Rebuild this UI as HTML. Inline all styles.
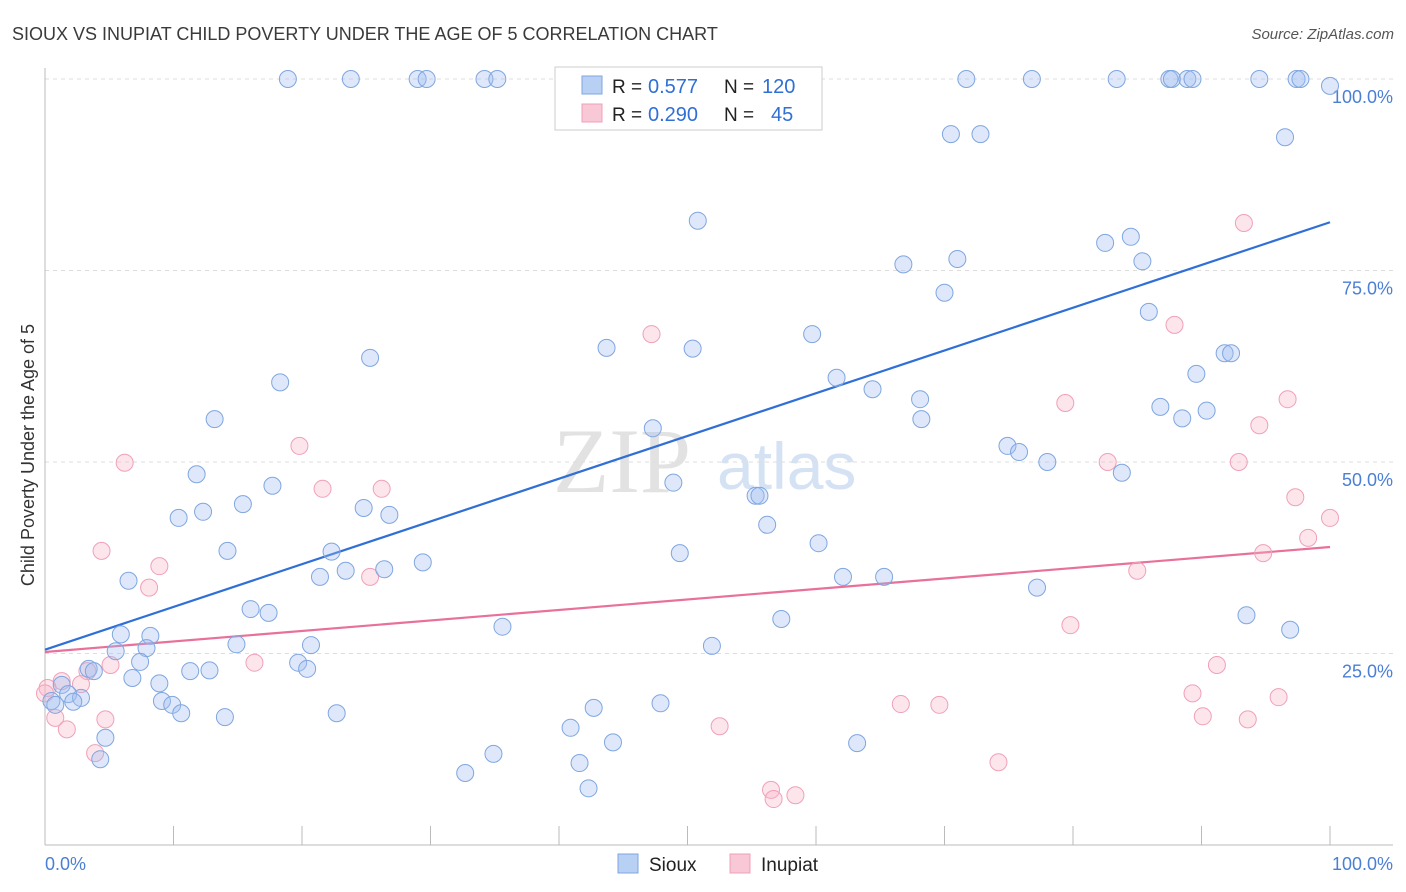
<!DOCTYPE html>
<html><head><meta charset="utf-8"><style>
body{margin:0;background:#fff;font-family:"Liberation Sans",sans-serif;}
svg{display:block}
</style></head><body>
<svg id="chart" width="1406" height="892">
<text x="12" y="40" font-size="18" fill="#3a3a3a">SIOUX VS INUPIAT CHILD POVERTY UNDER THE AGE OF 5 CORRELATION CHART</text>
<text x="1394" y="39" font-size="15" fill="#555" font-style="italic" text-anchor="end">Source: ZipAtlas.com</text>
<g><text x="553" y="492" font-size="92" font-family="Liberation Serif,serif" fill="#e2e2e2">ZIP</text><text x="717" y="489" font-size="66" fill="#d4e2f4">atlas</text></g>
<g id="grid"></g>
<g id="axes"></g>
<g id="lines"></g>
<g id="pts"></g>
<g>
<rect x="555" y="67" width="267" height="63" fill="#fff" stroke="#ccc"/>
<rect x="582" y="76" width="20" height="18" fill="#b8d0f4" stroke="#7fa6e0"/>
<text x="612" y="93" font-size="19" fill="#222">R =</text>
<text x="648" y="93" font-size="20" fill="#2f6fd6">0.577</text>
<text x="724" y="93" font-size="19" fill="#222">N =</text>
<text x="762" y="93" font-size="20" fill="#2f6fd6">120</text>
<rect x="582" y="104" width="20" height="18" fill="#f9c8d6" stroke="#f0a0b8"/>
<text x="612" y="121" font-size="19" fill="#222">R =</text>
<text x="648" y="121" font-size="20" fill="#2f6fd6">0.290</text>
<text x="724" y="121" font-size="19" fill="#222">N =</text>
<text x="771" y="121" font-size="20" fill="#2f6fd6">45</text>
</g>
<g>
<rect x="618" y="854" width="20" height="19" fill="#b8d0f4" stroke="#7fa6e0"/>
<text x="649" y="871" font-size="19" fill="#222">Sioux</text>
<rect x="730" y="854" width="20" height="19" fill="#f9c8d6" stroke="#f0a0b8"/>
<text x="761" y="871" font-size="19" fill="#222">Inupiat</text>
</g>
<text x="34" y="455" font-size="18" fill="#333" text-anchor="middle" transform="rotate(-90 34 455)">Child Poverty Under the Age of 5</text>
</svg>
<script>
const siouxX=[18.9,23.8,29.0,29.7,34.2,35.2,43.4,54.2,71.7,76.8,83.4,87.5,87.7,88.9,89.3,94.5,97.4,97.7,100,70.5,72.8,96.5,50.8,82.5,84.5,85.4,66.8,71.0,70.0,85.9,25.3,43.7,50.4,59.7,91.8,92.3,18.3,61.6,64.4,89.6,68.1,68.2,86.8,88.5,90.4,13.2,47.3,74.9,75.8,78.0,83.8,11.8,17.7,48.9,55.3,55.6,15.4,12.3,10.4,24.8,26.8,56.2,60.2,14.2,22.3,49.4,29.4,23.4,26.4,6.5,21.4,62.1,65.3,77.2,16.0,17.4,35.6,57.3,93.5,96.9,5.9,8.2,14.9,20.7,7.9,5.5,51.9,7.4,3.4,3.8,19.7,20.4,11.3,12.8,6.8,8.9,1.3,1.8,0.5,2.8,2.2,9.1,9.9,10.6,14.0,22.7,47.9,42.7,40.9,4.7,4.3,34.9,41.6,32.7,44.2,63.2,42.3,0.8];
const siouxY=[100,100,100,100,100,100,100,100,100,100,100,100,100,100,100,100,100,100,99.1,92.8,92.8,92.4,81.5,78.6,79.4,76.2,75.8,76.5,72.1,69.6,63.6,64.9,64.8,66.7,64.2,64.2,60.4,61.0,59.5,61.5,58.2,55.6,57.2,55.7,56.7,55.6,54.4,52.1,51.3,50.0,48.6,48.4,46.9,47.3,45.6,45.6,44.5,43.5,42.7,44.0,43.1,41.8,39.4,38.4,38.3,38.1,36.9,35.8,36.0,34.5,35.0,35.0,35.0,33.6,30.8,30.3,28.5,29.5,30.0,28.1,27.5,27.3,26.2,26.1,25.7,25.3,26.0,23.9,23.0,22.7,23.8,23.0,22.7,22.8,21.8,21.1,20.9,19.7,18.8,19.2,18.7,18.8,18.3,17.2,16.7,17.2,18.5,17.9,15.3,14.0,11.2,11.9,10.7,9.4,13.4,13.3,7.4,18.3];
const inupiatX=[93.3,87.9,47.2,79.4,96.7,94.5,19.8,6.2,82.7,92.9,21.6,26.2,97.3,100,98.3,4.4,8.9,8.1,94.8,85.0,25.3,79.8,16.3,91.2,5.1,3.3,2.8,1.3,0.2,0,89.3,96.0,66.6,69.6,0.8,4.7,1.7,52.5,90.1,93.6,3.9,74.2,56.5,56.7,58.4];
const inupiatY=[81.2,67.9,66.7,57.7,58.2,54.8,52.1,49.9,50.0,50.0,46.5,46.5,45.4,42.7,40.1,38.4,36.4,33.6,38.1,35.8,35.0,28.7,23.8,23.5,23.5,22.7,21.0,21.4,20.5,19.8,19.8,19.3,18.4,18.3,16.6,16.4,15.1,15.5,16.8,16.4,12.0,10.8,7.2,6.0,6.5];
const siouxTrend=[25.5,81.3];
const inupiatTrend=[25.2,38.9];
const yTicks=[25,50,75,100];
const yTickLabels=["25.0%","50.0%","75.0%","100.0%"];
const xTicks=[0,10,20,30,40,50,60,70,80,90,100];
const NS="http://www.w3.org/2000/svg";
const sx=v=>45+v*12.85, sy=v=>845-v*7.66;
function mk(t,a,p){const e=document.createElementNS(NS,t);for(const k in a)e.setAttribute(k,a[k]);document.getElementById(p).appendChild(e);return e;}
yTicks.forEach((v,i)=>{
 const g=mk('line',{x1:45,x2:1393,y1:sy(v),y2:sy(v),stroke:'#ddd','stroke-dasharray':'4,4'},'grid');
 
 
 const t=mk('text',{x:1393,y:sy(v)+24,'font-size':18,fill:'#4a7fd4','text-anchor':'end'},'axes');
 t.textContent=yTickLabels[i];
 
 
});
const ax=mk('line',{x1:45,x2:45,y1:68,y2:845,stroke:'#bbb'},'axes');


const bx=mk('line',{x1:45,x2:1393,y1:845,y2:845,stroke:'#bbb'},'axes');


xTicks.forEach(v=>{const l=mk('line',{x1:sx(v),x2:sx(v),y1:826,y2:845,stroke:'#bbb'},'axes');
 
 });
const xl0=mk('text',{x:45,y:870,'font-size':18,fill:'#4a7fd4'},'axes');xl0.textContent='0.0%';


const xl1=mk('text',{x:1393,y:870,'font-size':18,fill:'#4a7fd4','text-anchor':'end'},'axes');xl1.textContent='100.0%';


function pts(X,Y,fill,stroke,name){X.forEach((x,i)=>{const c=mk('circle',{cx:sx(x),cy:sy(Y[i]),r:8.5,fill:fill,stroke:stroke,'stroke-width':1},'pts');
 
 });}
pts(inupiatX,inupiatY,'rgba(248,180,200,0.35)','#f0a0b8','inupiat');
pts(siouxX,siouxY,'rgba(160,190,240,0.35)','#7fa6e0','sioux');
const l1=mk('line',{x1:sx(0),y1:sy(siouxTrend[0]),x2:sx(100),y2:sy(siouxTrend[1]),stroke:'#2f6fd6','stroke-width':2.2},'lines');


const l2=mk('line',{x1:sx(0),y1:sy(inupiatTrend[0]),x2:sx(100),y2:sy(inupiatTrend[1]),stroke:'#e8709a','stroke-width':2.2},'lines');


</script>
</body></html>
